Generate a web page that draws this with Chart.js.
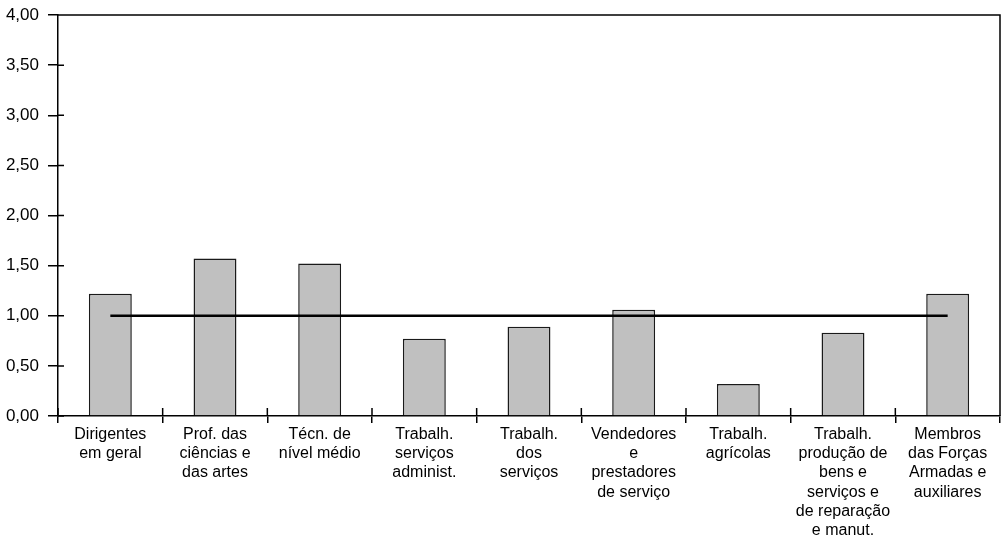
<!DOCTYPE html>
<html>
<head>
<meta charset="utf-8">
<script src="https://cdn.jsdelivr.net/npm/chart.js@4.4.1/dist/chart.umd.min.js"></script>
<style>
  html, body { margin: 0; padding: 0; background: #fff; }
  #wrap { width: 1004px; height: 537px; position: relative; }
</style>
</head>
<body>
<div id="wrap"><canvas id="chart"></canvas></div>
<script>
const categories = [
    ['Dirigentes', 'em geral'],
    ['Prof. das', 'ciências e', 'das artes'],
    ['Técn. de', 'nível médio'],
    ['Trabalh.', 'serviços', 'administ.'],
    ['Trabalh.', 'dos', 'serviços'],
    ['Vendedores', 'e', 'prestadores', 'de serviço'],
    ['Trabalh.', 'agrícolas'],
    ['Trabalh.', 'produção de', 'bens e', 'serviços e', 'de reparação', 'e manut.'],
    ['Membros', 'das Forças', 'Armadas e', 'auxiliares']
];
const barValues = [1.22, 1.57, 1.52, 0.77, 0.89, 1.06, 0.32, 0.83, 1.22];
const referenceLine = [1.00, 1.00, 1.00, 1.00, 1.00, 1.00, 1.00, 1.00, 1.00];
const yTickLabels = ['0,00', '0,50', '1,00', '1,50', '2,00', '2,50', '3,00', '3,50', '4,00'];

const FAMILY = '"Liberation Sans", Arial, Helvetica, sans-serif';

// frame on top/right plus the short tick parts that cross into the plot
const framePlugin = {
    id: 'frame',
    afterDraw(chart) {
        const { ctx, chartArea: a } = chart;
        const x = chart.scales.x, y = chart.scales.y;
        const half = (x.getPixelForValue(1) - x.getPixelForValue(0)) / 2;
        ctx.save();
        ctx.strokeStyle = '#000';
        ctx.lineWidth = 1.5;
        ctx.beginPath();
        ctx.moveTo(a.left, a.top);
        ctx.lineTo(a.right, a.top);
        ctx.lineTo(a.right, a.bottom);
        y.ticks.forEach(t => {
            const py = y.getPixelForValue(t.value);
            ctx.moveTo(a.left, py);
            ctx.lineTo(a.left + 6, py);
        });
        for (let i = 0; i <= categories.length; i++) {
            const px = i < categories.length ? x.getPixelForValue(i) - half : x.getPixelForValue(i - 1) + half;
            ctx.moveTo(px, a.bottom);
            ctx.lineTo(px, a.bottom - 8);
        }
        ctx.stroke();
        ctx.restore();
    }
};

new Chart(document.getElementById('chart'), {
    type: 'bar',
    data: {
        labels: categories,
        datasets: [
            {
                type: 'line',
                data: referenceLine,
                borderColor: '#000',
                borderWidth: 2.5,
                pointRadius: 0,
                fill: false,
                order: 0
            },
            {
                type: 'bar',
                data: barValues,
                backgroundColor: '#c0c0c0',
                borderColor: '#1a1a1a',
                borderWidth: 1.5,
                categoryPercentage: 1,
                barPercentage: 0.41,
                order: 1
            }
        ]
    },
    options: {
        responsive: true,
        maintainAspectRatio: false,
        animation: false,
        layout: { padding: { top: 15, right: 4, left: 0, bottom: 0 } },
        plugins: {
            legend: { display: false },
            tooltip: { enabled: false }
        },
        scales: {
            x: {
                grid: {
                    offset: true,
                    drawOnChartArea: false,
                    drawTicks: true,
                    tickLength: 7,
                    color: '#000',
                    lineWidth: 1.5
                },
                border: { display: true, color: '#000', width: 1.5 },
                ticks: {
                    color: '#000',
                    font: { family: FAMILY, size: 16 },
                    padding: 2,
                    maxRotation: 0,
                    autoSkip: false
                },
                afterFit(scale) { scale.height = 121; }
            },
            y: {
                min: 0,
                max: 4,
                grid: {
                    drawOnChartArea: false,
                    drawTicks: true,
                    tickLength: 10,
                    color: '#000',
                    lineWidth: 1.5
                },
                border: { display: true, color: '#000', width: 1.5 },
                ticks: {
                    stepSize: 0.5,
                    color: '#000',
                    font: { family: FAMILY, size: 17 },
                    padding: 9,
                    callback: (v, i) => yTickLabels[i]
                },
                afterFit(scale) {
                    scale.width = 58;
                    scale.paddingTop = 0;
                    scale.paddingBottom = 0;
                }
            }
        }
    },
    plugins: [framePlugin]
});
</script>
</body>
</html>
